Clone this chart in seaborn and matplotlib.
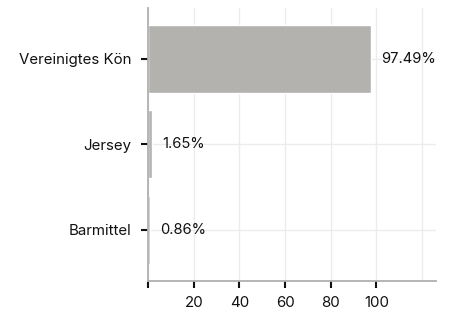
import matplotlib
matplotlib.use("Agg")
import matplotlib.pyplot as plt
import seaborn as sns
import pandas as pd

# Daten
laender = ["Vereinigtes Kön", "Jersey", "Barmittel"]
anteile = [97.49, 1.65, 0.86]
x_ticks = [0, 20, 40, 60, 80, 100]
x_tick_labels = ["", "20", "40", "60", "80", "100"]

df = pd.DataFrame({"land": laender, "anteil": anteile})

sns.set_style("white")
plt.rcParams['font.family'] = ['Inter', 'DejaVu Sans']

fig, ax = plt.subplots(figsize=(4.49, 3.11), dpi=100)
fig.subplots_adjust(left=0.33, right=0.972, top=0.975, bottom=0.097)

sns.barplot(data=df, x="anteil", y="land", color="#b3b2ae", saturation=1,
            width=0.8, ax=ax, zorder=2)

# Werte neben den Balken
for i, v in enumerate(anteile):
    ax.text(v + 4.5, i, f"{v:.2f}%", va="center", ha="left", fontsize=10.6, color="#111111")

ax.set_xlim(0, 126.3)
ax.set_ylim(2.6, -0.6)
ax.set_xticks(x_ticks)
ax.set_xticklabels(x_tick_labels)
ax.grid(axis="both", color="#ececec", lw=1, zorder=0)
ax.axvline(120, color="#ececec", lw=1, zorder=0)
ax.set_axisbelow(True)

ax.set_xlabel("")
ax.set_ylabel("")
for s in ["top", "right"]:
    ax.spines[s].set_visible(False)
for s in ["left", "bottom"]:
    ax.spines[s].set_color("#b0b0b0")
    ax.spines[s].set_linewidth(1.3)

ax.tick_params(axis="both", bottom=True, left=True, length=5, width=1.5,
               color="#111111", labelsize=10.8, labelcolor="#111111")
ax.tick_params(axis="y", pad=7)
ax.tick_params(axis="x", pad=6)

plt.savefig("out.png", dpi=100)
